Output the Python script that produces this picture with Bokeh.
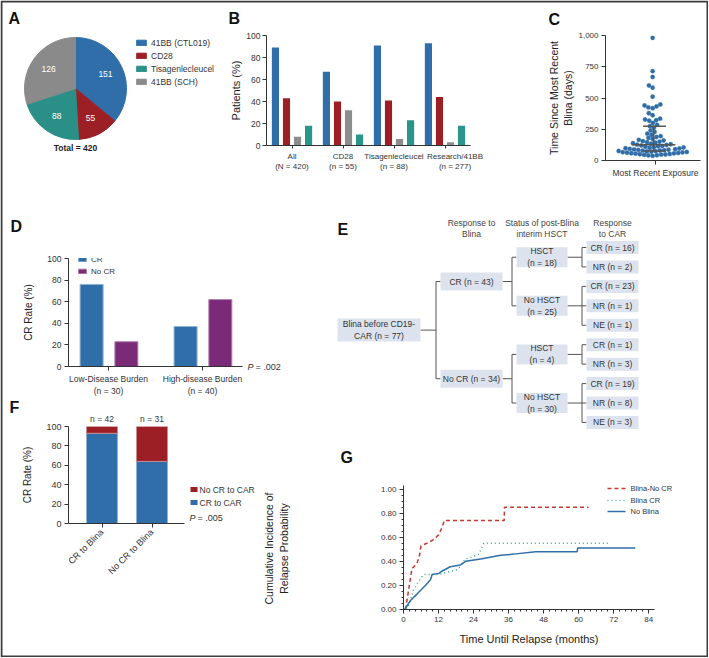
import math
import numpy as np
from bokeh.plotting import figure
from bokeh.models import (Range1d, FactorRange, FixedTicker, Legend, LegendItem,
                          ColumnDataSource, NumeralTickFormatter)
from bokeh.transform import dodge
from bokeh.layouts import row, column
from bokeh.embed import file_html
from bokeh.resources import INLINE
from bokeh.core.properties import value

FONT = "Liberation Sans"
INK = "#333333"
BLUE = "#2f6ea8"
RED = "#9c1f25"
GRAY = "#8c8c8c"
TEAL = "#2a958a"
PURPLE = "#7b2a78"
NB = "\u00a0"

# ---------------- data ----------------
# A
pie_labels = ["41BB (CTL019)", "CD28", "Tisagenlecleucel", "41BB (SCH)"]
pie_counts = [151, 55, 88, 126]
pie_colors = [BLUE, RED, "#2a8f86", "#8a8a8a"]

# B
b_groups = ["All\n(N = 420)", "CD28\n(n = 55)", "Tisagenlecleucel\n(n = 88)",
            NB * 9 + "Research/41BB\n" + NB * 9 + "(n = 277)"]
b_series = ["CR rate", "Relapse rate", "Nonresponse", "Blina use"]
b_cr = [89, 67, 91, 93]
b_relapse = [43, 40, 41, 44]
b_nonresp = [8, 32, 6, 3]
b_blina = [18, 10, 23, 18]
b_yticks = [0, 20, 40, 60, 80, 100]
b_ylabel = "Patients (%)"

# C
c_days = [981, 715, 668, 600, 582, 510, 448, 440, 433, 425, 418, 378, 362, 335, 328, 322, 318,
          300, 285, 275, 262, 240, 228, 215, 205, 195, 188, 180, 172, 165, 160, 155, 150,
          146, 142, 138, 134, 130, 127, 124, 120, 117, 114, 110, 107, 104, 101,
          98, 96, 93, 90, 89, 86, 85, 82, 80, 79, 76, 75, 72, 70, 68, 66, 65, 62, 60,
          58, 57, 55, 52, 50, 48, 47, 45, 42, 40, 37]
c_yticks = [0, 250, 500, 750, 1000]
c_xlabel = "Most Recent Exposure"

# D
d_groups = ["Low-Disease Burden\n(n = 30)", "High-disease Burden\n(n = 40)"]
d_series = ["CR", "No CR"]
d_cr = [76, 37]
d_nocr = [23, 62]
d_p = "= .002"

# E
e_headers = ["Response to\nBlina", "Status of post-Blina\ninterim HSCT", "Response\nto CAR"]
e_root = "Blina before CD19-\nCAR (n = 77)"
e_level1 = ["CR (n = 43)", "No CR (n = 34)"]
e_level2 = [["HSCT\n(n = 18)", "No HSCT\n(n = 25)"], ["HSCT\n(n = 4)", "No HSCT\n(n = 30)"]]
e_leaves = [[["CR (n = 16)", "NR (n = 2)"], ["CR (n = 23)", "NR (n = 1)", "NE (n = 1)"]],
            [["CR (n = 1)", "NR (n = 3)"], ["CR (n = 19)", "NR (n = 8)", "NE (n = 3)"]]]

# F
f_groups = ["CR to Blina", "No CR to Blina"]
f_series = ["No CR to CAR", "CR to CAR"]
f_n = ["n = 42", "n = 31"]
f_cr_car = [93, 64]
f_nocr_car = [7, 36]
f_p = "= .005"

# G
g_series = ["Blina-No CR", "Blina CR", "No Blina"]
g_noCR_t = [0.7, 2.9, 4.6, 5.5, 6.0, 8.0, 10.3, 12.0, 13.1, 14.0, 34.5, 34.6, 63.4]
g_noCR_p = [0.0, 0.34, 0.38, 0.45, 0.53, 0.55, 0.58, 0.62, 0.675, 0.74, 0.74, 0.85, 0.85]
g_CR_t = [1.1, 2.0, 3.4, 5.1, 6.9, 12.1, 14.9, 18.3, 19.5, 21.3, 24.0, 25.8, 27.5, 70.3]
g_CR_p = [0.0, 0.05, 0.16, 0.23, 0.29, 0.29, 0.31, 0.33, 0.36, 0.42, 0.44, 0.46, 0.55, 0.55]
g_no_t = [0.4, 2.4, 4.7, 7.5, 9.3, 9.8, 12.1, 13.3, 16.0, 19.5, 21.3, 26.4, 33.3, 37.7, 45.3, 59.5, 59.7, 79.4]
g_no_p = [0.0, 0.075, 0.13, 0.2, 0.25, 0.29, 0.30, 0.32, 0.355, 0.37, 0.40, 0.42, 0.45, 0.46, 0.48, 0.48, 0.51, 0.51]
g_xticks = [0, 12, 24, 36, 48, 60, 72, 84]
g_yticks = [0.0, 0.2, 0.4, 0.6, 0.8, 1.0]
g_ylabel = "Cumulative Incidence of\nRelapse Probability"
G_COLORS = ["#c43a30", "#3aa394", BLUE]
G_DASH = ["4 3", "1 3", "solid"]

# ---------------- helpers ----------------
PAGE_W, PAGE_H = 708, 657


def make_fig(w, h, l, r, t, b, xr, yr, axes=True):
    kw = {}
    if not axes:
        kw = dict(x_axis_location=None, y_axis_location=None)
    p = figure(width=w, height=h, x_range=xr, y_range=yr, output_backend="svg",
               toolbar_location=None, min_border_left=l, min_border_right=r,
               min_border_top=t, min_border_bottom=b, **kw)
    p.outline_line_color = None
    p.grid.visible = False
    p.background_fill_color = "white"
    p.border_fill_color = "white"
    try:
        p.frame_align = False
    except Exception:
        pass
    return p


def style_axes(p, tick_size="8.5px", label_size="11px"):
    for ax in p.axis:
        ax.axis_line_color = INK
        ax.axis_line_width = 1
        ax.major_tick_line_color = INK
        ax.minor_tick_line_color = None
        ax.major_tick_in = 0
        ax.major_tick_out = 4
        ax.major_label_text_font = FONT
        ax.major_label_text_font_size = tick_size
        ax.major_label_text_color = INK
        ax.major_label_standoff = 3
        ax.axis_label_text_font = FONT
        ax.axis_label_text_font_style = "normal"
        ax.axis_label_text_font_size = label_size
        ax.axis_label_text_color = "#222222"


def legend(p, items, loc, gw, gh, lh, sp, size):
    lg = Legend(items=items, location=loc, glyph_width=gw, glyph_height=gh, label_height=lh,
                spacing=sp, padding=0, margin=0, label_standoff=4, border_line_color=None,
                background_fill_alpha=0, label_text_font=FONT, label_text_font_size=size,
                label_text_color=INK)
    p.add_layout(lg)
    return lg


# ---------------- A: pie ----------------
WA, HA = 230, 212
pA = make_fig(WA, HA, 0, 0, 0, 0, Range1d(0, WA), Range1d(0, HA), axes=False)
fr = np.array(pie_counts) / sum(pie_counts)
cum = np.concatenate([[0], np.cumsum(fr)])
a_start = np.pi / 2 - 2 * np.pi * cum[:-1]
a_end = np.pi / 2 - 2 * np.pi * cum[1:]
cx, cy, R = 75, HA - 88, 51
srcA = ColumnDataSource(dict(start=a_start, end=a_end, color=pie_colors, label=pie_labels))
rA = pA.wedge(x=cx, y=cy, radius=R, start_angle="start", end_angle="end", direction="clock",
              fill_color="color", line_color="color", source=srcA)
mid = (a_start + a_end) / 2
pA.text(x=cx + 0.65 * R * np.cos(mid), y=cy + 0.65 * R * np.sin(mid),
        text=[str(c) for c in pie_counts], text_color="white", text_align="center",
        text_baseline="middle", text_font=value(FONT), text_font_size="8.5px")
pA.text(x=[cx], y=[cy - R - 8], text=["Total = %d" % sum(pie_counts)], text_align="center",
        text_baseline="middle", text_font=value(FONT), text_font_size="8.5px",
        text_font_style="bold", text_color="#222222")
legend(pA, [LegendItem(label=l, renderers=[rA], index=i) for i, l in enumerate(pie_labels)],
       (135, 124), 12, 7, 13, 0, "8.5px")

# ---------------- B: grouped bars ----------------
WB, HB = 290, 212
LB, RB, TB, BB = 36, 50, 35, 67
pB = make_fig(WB, HB, LB, RB, TB, BB, FactorRange(*b_groups), Range1d(0, 100))
srcB = ColumnDataSource(dict(g=b_groups, cr=b_cr, rel=b_relapse, non=b_nonresp, bl=b_blina))
b_cols = ["cr", "rel", "non", "bl"]
b_colors = [BLUE, RED, GRAY, TEAL]
b_offs = [-0.325, -0.108, 0.108, 0.325]
b_r = []
for col, colr, off in zip(b_cols, b_colors, b_offs):
    b_r.append(pB.vbar(x=dodge("g", off, range=pB.x_range), top=col, width=0.14,
                       fill_color=colr, line_color=None, source=srcB))
style_axes(pB)
pB.xaxis.major_label_text_font_size = "8px"
pB.yaxis.ticker = FixedTicker(ticks=b_yticks)
pB.yaxis.major_label_standoff = 2
pB.xaxis.major_tick_out = 3
legend(pB, [LegendItem(label=s, renderers=[r]) for s, r in zip(b_series, b_r)],
       (209, 30), 6, 5, 13, 0, "8.5px")

# ---------------- C: dot plot ----------------
WC, HC = 188, 212
LC, RC, TC, BC = 85, 8, 35, 52
pC = make_fig(WC, HC, LC, RC, TC, BC, Range1d(-0.526, 0.474), Range1d(0, 1000))
frame_w_c = WC - LC - RC
frame_h_c = HC - TC - BC
ypx = frame_h_c / 1000.0
dia = 4.3
vals = np.array(c_days, dtype=float)
order = np.argsort(vals)
placed = []
offs = np.zeros(len(vals))
for i in order:
    y = vals[i] * ypx
    near = [(qx, qy) for (qx, qy) in placed if abs(qy - y) < dia]
    cands = [0.0]
    for qx, qy in near:
        dx = math.sqrt(dia * dia - (qy - y) ** 2)
        cands += [qx + dx, qx - dx]
    cands.sort(key=lambda c: (abs(c), c))
    chosen = 0.0
    for cnd in cands:
        if all((cnd - qx) ** 2 + (y - qy) ** 2 >= dia * dia - 1e-6 for qx, qy in near):
            chosen = cnd
            break
    placed.append((chosen, y))
    offs[i] = chosen
pC.scatter(x=offs / frame_w_c - 0.03, y=vals, size=dia, fill_color=BLUE, line_color=BLUE, line_width=0.3)
q1, med, q3 = np.percentile(vals, [25, 50, 75])
pC.segment(x0=[-0.25, -0.13, -0.13, -0.02], y0=[med, q3, q1, q1], x1=[0.21, 0.11, 0.11, -0.02],
           y1=[med, q3, q1, q3], line_color="#555555", line_width=1.5)
style_axes(pC, tick_size="8px", label_size="10.5px")
pC.xaxis.major_label_text_font_size = "8.5px"
pC.yaxis.ticker = FixedTicker(ticks=c_yticks)
pC.yaxis.formatter = NumeralTickFormatter(format="0,0")
pC.xaxis.ticker = FixedTicker(ticks=[0])
pC.xaxis.major_label_overrides = {0: c_xlabel}
pC.yaxis.axis_label = "Time Since Most Recent\nBlina (days)"
pC.yaxis.axis_label_standoff = 1

# ---------------- D: grouped bars ----------------
WD, HD = 260, 188
LD, RD, TD, BD = 68, 18, 46, 34
pD = make_fig(WD, HD, LD, RD, TD, BD, Range1d(0.574, 2.426), Range1d(0, 100))
d_x = np.arange(1, len(d_groups) + 1)
rD1 = pD.vbar(x=d_x - 0.18, top=d_cr, width=0.245, fill_color=BLUE, line_color="#8fb2d6", line_width=1)
rD2 = pD.vbar(x=d_x + 0.19, top=d_nocr, width=0.245, fill_color=PURPLE, line_color="#b585b2", line_width=1)
style_axes(pD, label_size="10px")
pD.yaxis.ticker = FixedTicker(ticks=b_yticks)
pD.xaxis.ticker = FixedTicker(ticks=list(d_x))
pD.xaxis.major_label_overrides = {int(k): v for k, v in zip(d_x, d_groups)}
pD.yaxis.axis_label = "CR Rate (%)"
pD.yaxis.axis_label_standoff = 10
legend(pD, [LegendItem(label=d_series[0], renderers=[rD1]), LegendItem(label=d_series[1], renderers=[rD2])],
       (9, 89), 10, 6, 12, 0, "8px")

# ---------------- E: flow diagram ----------------
WE, HE = 448, 228
E_SHIFT = 70
pE = make_fig(WE, HE, 0, 0, 0, 0, Range1d(-E_SHIFT, WE - E_SHIFT), Range1d(HE, 0), axes=False)
col_x = [(7, 90), (110, 172), (186, 237), (256, 308)]
box_h = [23, 18, 20, 13]
leaf_y0, leaf_dy = 35.0, 19.44
boxes = []  # (level, label, y)
links = []  # (parent_level, parent_y, [child ys])
k = 0
l1_ys = []
for i, l1 in enumerate(e_level1):
    l2_ys = []
    for j, l2 in enumerate(e_level2[i]):
        ys = []
        for leaf in e_leaves[i][j]:
            yv = leaf_y0 + k * leaf_dy
            k += 1
            ys.append(yv)
            boxes.append((3, leaf, yv))
        y2 = float(np.mean(ys))
        boxes.append((2, l2, y2))
        links.append((2, y2, ys))
        l2_ys.append(y2)
    y1 = float(np.mean(l2_ys))
    boxes.append((1, l1, y1))
    links.append((1, y1, l2_ys))
    l1_ys.append(y1)
y0 = float(np.mean(l1_ys))
boxes.append((0, e_root, y0))
links.append((0, y0, l1_ys))

xs_, ys_ = [], []
for lvl, py, cys in links:
    pr = col_x[lvl][1]
    cl = col_x[lvl + 1][0]
    xm = cl - 4.5
    xs_ += [[pr, xm], [xm, xm]]
    ys_ += [[py, py], [min(cys), max(cys)]]
    for c in cys:
        xs_.append([xm, cl])
        ys_.append([c, c])
pE.multi_line(xs=xs_, ys=ys_, line_color="#555555", line_width=1)
bx = [(col_x[b[0]][0] + col_x[b[0]][1]) / 2 for b in boxes]
bw = [col_x[b[0]][1] - col_x[b[0]][0] for b in boxes]
bh = [box_h[b[0]] for b in boxes]
pE.rect(x=bx, y=[b[2] for b in boxes], width=bw, height=bh, fill_color="#dde3ee", line_color=None)
pE.text(x=bx, y=[b[2] for b in boxes], text=[b[1] for b in boxes], text_align="center",
        text_baseline="middle", text_font=value(FONT), text_font_size="8.5px", text_color=INK,
        text_line_height=1.2)
pE.text(x=[(a + b) / 2 for a, b in col_x[1:]], y=[16] * 3, text=e_headers, text_align="center",
        text_baseline="middle", text_font=value(FONT), text_font_size="8.5px", text_color="#444444",
        text_line_height=1.15)

# ---------------- F: stacked bars ----------------
WF, HF = 260, 257
LF, RF, TF, BF = 68, 76, 26, 134
pF = make_fig(WF, HF, LF, RF, TF, BF, Range1d(0.33, 2.65), Range1d(0, 100))
f_x = np.arange(1, len(f_groups) + 1)
f_top = [a + b for a, b in zip(f_cr_car, f_nocr_car)]
pF.vbar(x=f_x, bottom=0, top=f_cr_car, width=0.62, fill_color=BLUE, line_color="#8fb2d6", line_width=1)
pF.vbar(x=f_x, bottom=f_cr_car, top=f_top, width=0.62, fill_color=RED, line_color="#c98a8d", line_width=1)
style_axes(pF, tick_size="9px", label_size="10px")
pF.yaxis.ticker = FixedTicker(ticks=b_yticks)
pF.xaxis.ticker = FixedTicker(ticks=list(f_x))
pF.xaxis.major_label_overrides = {int(k): v for k, v in zip(f_x, f_groups)}
pF.xaxis.major_label_orientation = math.pi / 4
pF.yaxis.axis_label = "CR Rate (%)"
pF.yaxis.axis_label_standoff = 10

# ---------------- G: cumulative incidence ----------------
WG, HG = 448, 217
LG, RG, TG, BG = 143, 54, 45, 48
pG = make_fig(WG, HG, LG, RG, TG, BG, Range1d(0, 86), Range1d(0, 1.03))
for (tt, pp), colr, dash in zip([(g_noCR_t, g_noCR_p), (g_CR_t, g_CR_p), (g_no_t, g_no_p)], G_COLORS, G_DASH):
    pG.line(tt, pp, line_color=colr, line_width=1.5, line_dash=dash)
style_axes(pG, tick_size="8px", label_size="10.5px")
pG.xaxis.ticker = FixedTicker(ticks=g_xticks, minor_ticks=list(range(0, 86, 2)))
pG.yaxis.ticker = FixedTicker(ticks=g_yticks, minor_ticks=[i * 0.05 for i in range(21)])
pG.yaxis.formatter = NumeralTickFormatter(format="0.00")
for ax in pG.axis:
    ax.minor_tick_line_color = INK
    ax.minor_tick_out = 2
    ax.minor_tick_in = 0
pG.xaxis.axis_label = "Time Until Relapse (months)"
pG.xaxis.axis_label_text_font_size = "11px"
pG.xaxis.axis_label_standoff = 8

# ---------------- overlay: panel letters, notes, outside legends, frame ----------------
pO = figure(width=PAGE_W, height=PAGE_H, x_range=Range1d(0, PAGE_W), y_range=Range1d(PAGE_H, 0),
            x_axis_location=None, y_axis_location=None, output_backend="svg", toolbar_location=None,
            min_border=0)
pO.grid.visible = False
pO.outline_line_color = None
pO.background_fill_color = None
pO.border_fill_color = None
try:
    pO.frame_align = False
except Exception:
    pass
letters = ["A", "B", "C", "D", "E", "F", "G"]
letter_x = [8, 228, 548, 10, 337, 9, 340]
letter_y = [9, 9, 10, 217, 220, 398, 448]
pO.text(x=letter_x, y=letter_y, text=letters, text_font=value(FONT), text_font_size="16px",
        text_font_style="bold", text_baseline="top", text_color="#111111")
# y-axis titles of B and G (placed freely, as in the figure)
pO.text(x=[235], y=[90], text=[b_ylabel], angle=math.pi / 2, text_align="center",
        text_baseline="middle", text_font=value(FONT), text_font_size="11px", text_color="#222222")
pO.text(x=[276], y=[548], text=[g_ylabel], angle=math.pi / 2, text_align="center",
        text_baseline="middle", text_font=value(FONT), text_font_size="10.5px", text_color="#222222",
        text_line_height=1.3)
# P values
pO.text(x=[247, 189], y=[366, 517], text=["P", "P"], text_font=value(FONT), text_font_size="9px",
        text_font_style="italic", text_baseline="middle", text_color=INK)
pO.text(x=[255, 197], y=[366, 517], text=[d_p, f_p], text_font=value(FONT), text_font_size="9px",
        text_baseline="middle", text_color=INK)
# n labels over F bars
pO.text(x=[101.5, 151.5], y=[418, 418], text=f_n, text_font=value(FONT), text_font_size="8.5px",
        text_align="center", text_baseline="middle", text_color=INK)
# F legend
pO.rect(x=[193.5, 193.5], y=[489, 502], width=7, height=5, fill_color=[RED, BLUE], line_color=None)
pO.text(x=[199, 199], y=[489, 502], text=f_series, text_font=value(FONT), text_font_size="8.5px",
        text_baseline="middle", text_color=INK)
# G legend
for yy, colr, dash in zip([488, 500, 511], G_COLORS, G_DASH):
    pO.line(x=[607, 625], y=[yy, yy], line_color=colr, line_width=1.5, line_dash=dash)
pO.text(x=[630] * 3, y=[488, 500, 511], text=g_series, text_font=value(FONT), text_font_size="7.5px",
        text_baseline="middle", text_color=INK)
# outer frame
pO.quad(left=[1], right=[PAGE_W - 1], top=[1], bottom=[PAGE_H - 1], fill_color=None,
        line_color="#3c3c3c", line_width=2)
pO.margin = (-PAGE_H, 0, 0, 0)

layout = column(
    row(pA, pB, pC),
    row(column(pD, pF), column(pE, pG)),
    pO,
)

open("out.html", "w").write(file_html(layout, INLINE, title="chart"))
